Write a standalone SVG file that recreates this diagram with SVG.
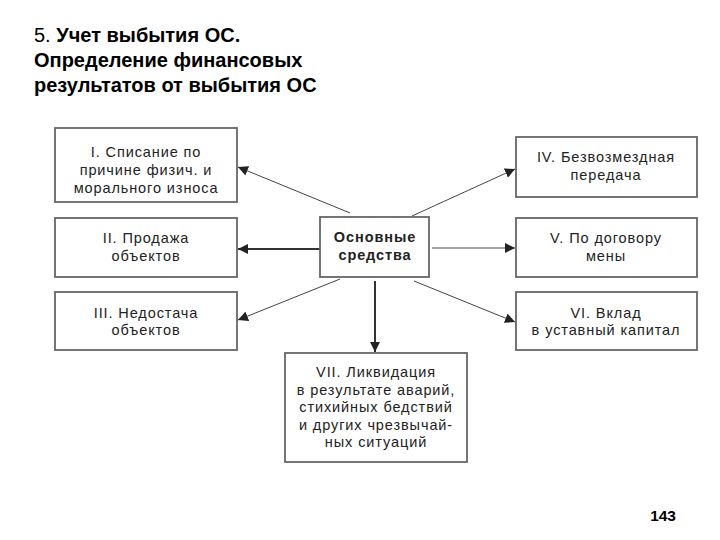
<svg xmlns="http://www.w3.org/2000/svg" width="720" height="540" viewBox="0 0 720 540">
<defs>
<marker id="ah" viewBox="0 0 10 10" refX="10" refY="5" markerWidth="10" markerHeight="10" markerUnits="userSpaceOnUse" orient="auto">
<path d="M0,0 L10,5 L0,10 z" fill="#222"/>
</marker>
<style>
.box{fill:#fff;stroke:#666;stroke-width:1.8}
.t{font-family:"Liberation Sans",Arial,sans-serif;font-size:14.5px;letter-spacing:0.9px;fill:#222;text-anchor:middle}
.b{font-weight:bold}
.thin{stroke:#444;stroke-width:1;fill:none}
.thick{stroke:#333;stroke-width:2;fill:none}
.title{font-family:"Liberation Sans",Arial,sans-serif;font-size:20px;fill:#000}
</style>
</defs>
<rect width="720" height="540" fill="#fff"/>
<g id="title">
<text class="title" x="34" y="42">5. <tspan font-weight="bold">Учет выбытия ОС.</tspan></text>
<text class="title" x="34" y="67" font-weight="bold">Определение финансовых</text>
<text class="title" x="34" y="92" font-weight="bold">результатов от выбытия ОС</text>
</g>
<g id="connectors">
<line class="thin" x1="350" y1="213" x2="238" y2="167" marker-end="url(#ah)"/>
<line class="thick" x1="320" y1="249" x2="238" y2="249" marker-end="url(#ah)"/>
<line class="thin" x1="340" y1="279" x2="238" y2="320" marker-end="url(#ah)"/>
<line class="thin" x1="412" y1="216" x2="515" y2="169" marker-end="url(#ah)"/>
<line class="thin" x1="432" y1="248" x2="515" y2="248" marker-end="url(#ah)"/>
<line class="thin" x1="414" y1="281" x2="515" y2="322" marker-end="url(#ah)"/>
<line class="thick" x1="375" y1="281" x2="375" y2="352" marker-end="url(#ah)"/>
</g>
<g id="node-center">
<rect class="box" x="320" y="217" width="109" height="60"/>
<text class="t b" x="375" y="242">Основные</text>
<text class="t b" x="375" y="260">средства</text>
</g>
<g id="node-1">
<rect class="box" x="55" y="128" width="182" height="74"/>
<text class="t" x="146" y="157">I. Списание по</text>
<text class="t" x="146" y="175">причине физич. и</text>
<text class="t" x="146" y="193">морального износа</text>
</g>
<g id="node-2">
<rect class="box" x="55" y="218" width="182" height="59"/>
<text class="t" x="146" y="243">II. Продажа</text>
<text class="t" x="146" y="261">объектов</text>
</g>
<g id="node-3">
<rect class="box" x="55" y="292" width="182" height="58"/>
<text class="t" x="146" y="318">III. Недостача</text>
<text class="t" x="146" y="335">объектов</text>
</g>
<g id="node-4">
<rect class="box" x="516" y="137" width="181" height="60"/>
<text class="t" x="606" y="162">IV. Безвозмездная</text>
<text class="t" x="606" y="180">передача</text>
</g>
<g id="node-5">
<rect class="box" x="516" y="218" width="181" height="59"/>
<text class="t" x="606" y="243">V. По договору</text>
<text class="t" x="606" y="261">мены</text>
</g>
<g id="node-6">
<rect class="box" x="516" y="292" width="181" height="58"/>
<text class="t" x="606" y="318">VI. Вклад</text>
<text class="t" x="606" y="335">в уставный капитал</text>
</g>
<g id="node-7">
<rect class="box" x="285" y="353" width="182" height="109"/>
<text class="t" x="376" y="377">VII. Ликвидация</text>
<text class="t" x="376" y="395">в результате аварий,</text>
<text class="t" x="376" y="412">стихийных бедствий</text>
<text class="t" x="376" y="430">и других чрезвычай-</text>
<text class="t" x="376" y="447">ных ситуаций</text>
</g>
<g id="page-number">
<text x="676" y="521" font-family="Liberation Sans,Arial,sans-serif" font-size="15.5" font-weight="bold" text-anchor="end" fill="#000">143</text>
</g>
</svg>
